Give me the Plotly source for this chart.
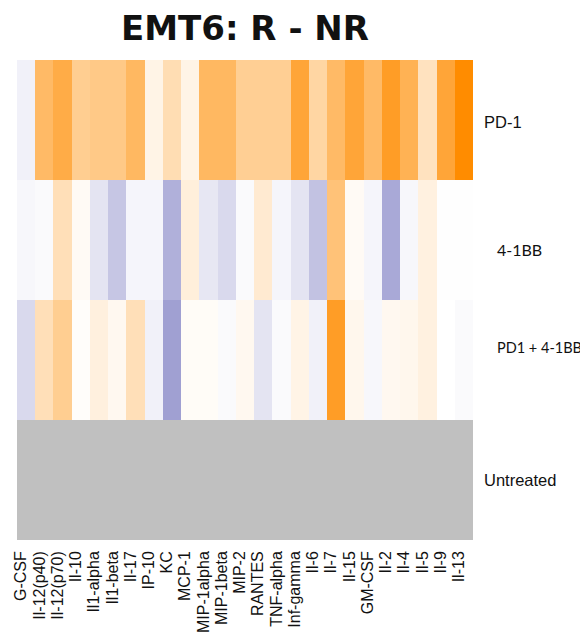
import plotly.graph_objects as go

cytokines = ["G-CSF", "Il-12(p40)", "Il-12(p70)", "Il-10", "Il1-alpha", "Il1-beta", "Il-17",
             "IP-10", "KC", "MCP-1", "MIP-1alpha", "MIP-1beta", "MIP-2", "RANTES", "TNF-alpha",
             "Inf-gamma", "Il-6", "Il-7", "Il-15", "GM-CSF", "Il-2", "Il-4", "Il-5", "Il-9", "Il-13"]

groups = ["PD-1", "4-1BB", "PD1 + 4-1BB", "Untreated"]

pd1 = [-0.10, 0.60, 0.72, 0.43, 0.47, 0.47, 0.62, 0.10, 0.30, 0.10, 0.62, 0.62, 0.42,
       0.42, 0.42, 0.78, 0.36, 0.60, 0.78, 0.60, 0.85, 0.67, 0.25, 0.78, 1.00]
bb41 = [-0.06, -0.04, 0.28, 0.04, -0.20, -0.42, -0.07, -0.07, -0.58, 0.14, -0.18, -0.28, -0.04,
        0.18, -0.07, -0.20, -0.45, 0.53, 0.04, -0.07, -0.63, -0.06, 0.12, -0.01, -0.01]
combo = [-0.28, 0.28, 0.43, 0.02, 0.13, 0.06, 0.28, -0.10, -0.70, 0.03, 0.03, -0.04, 0.06,
         -0.20, -0.04, 0.10, -0.10, 0.85, 0.07, -0.06, 0.06, 0.07, 0.12, 0.00, -0.04]
untreated = [None] * len(cytokines)

z = [pd1, bb41, combo, untreated]

colorscale = [[0.0, "rgb(119,119,191)"], [0.5, "rgb(255,255,255)"], [1.0, "rgb(255,140,0)"]]

fig = go.Figure(go.Heatmap(
    z=z, x=cytokines, y=groups, zmin=-1, zmax=1,
    colorscale=colorscale, showscale=False, hoverongaps=False,
))

label_style = {
    "PD-1": dict(xshift=9, yshift=-2, family="Liberation Sans, Arial", size=16.5),
    "4-1BB": dict(xshift=22, yshift=-9, family="Lato, Open Sans", size=16),
    "PD1 + 4-1BB": dict(xshift=22, yshift=13, family="Lato, Open Sans", size=14.5),
    "Untreated": dict(xshift=9, yshift=0, family="Liberation Sans, Arial", size=16.5),
}
for g in groups:
    s = label_style[g]
    fig.add_annotation(x=1, xref="paper", y=g, yref="y", text=g, showarrow=False,
                       xanchor="left", yanchor="middle", xshift=s["xshift"], yshift=s["yshift"],
                       font=dict(family=s["family"], size=s["size"], color="#111111"))

fig.update_layout(
    width=580, height=627,
    margin=dict(l=9, r=115, t=52, b=95),
    paper_bgcolor="white", plot_bgcolor="#c0c0c0",
    title=dict(text="<b>EMT6: R - NR</b>", x=237 / 580, xanchor="center", y=1 - 20 / 627,
               yanchor="middle", font=dict(family="DejaVu Sans", size=34, color="#111111")),
    xaxis=dict(tickangle=-90, showgrid=False, zeroline=False, ticks="", ticklabelshift=-5,
               ticklabelstandoff=7, automargin=False,
               tickmode="array", tickvals=cytokines, ticktext=cytokines,
               tickfont=dict(family="Liberation Sans, Arial", size=16, color="#111111")),
    yaxis=dict(autorange="reversed", showticklabels=False, showgrid=False, zeroline=False,
               ticks="", automargin=False),
)

fig.write_html("out.html")
